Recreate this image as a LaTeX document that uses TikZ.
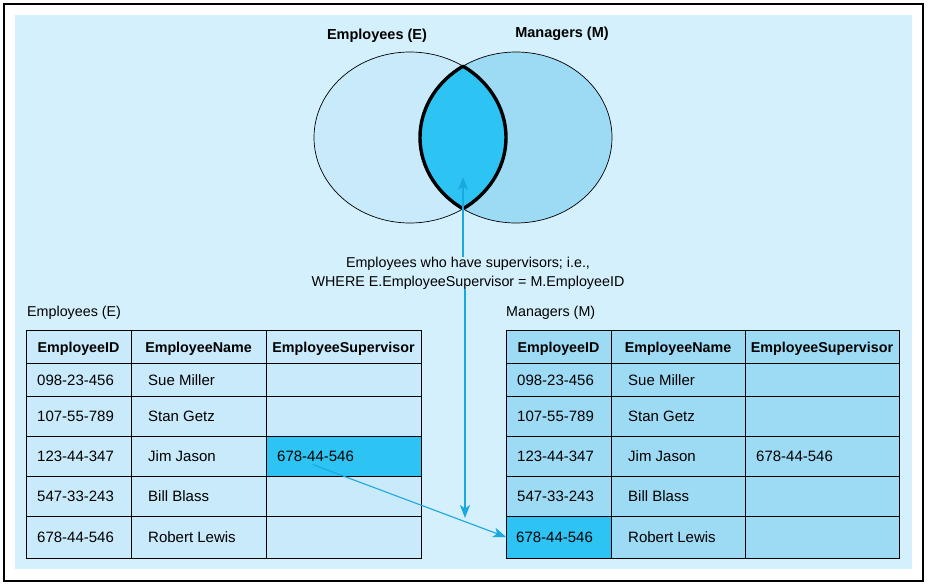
\documentclass[tikz,border=0pt]{standalone}
\usepackage{fontspec}
\setmainfont{Liberation Sans}
\usetikzlibrary{arrows.meta}
\definecolor{bgblue}{HTML}{D4F0FC}
\definecolor{tblE}{HTML}{C8EAFB}
\definecolor{tblM}{HTML}{9DDBF5}
\definecolor{hl}{HTML}{2DC4F3}
\definecolor{arrblue}{HTML}{1BA7E0}
\begin{document}
\begin{tikzpicture}[x=1pt,y=-1pt,
  cell/.style={draw, line width=0.9pt, inner sep=0pt, outer sep=0pt, anchor=north west},
  txt/.style={inner sep=0pt, font=\fontsize{14.3}{19}\selectfont},
  hdr/.style={inner sep=0pt, font=\fontsize{14.3}{17}\selectfont\bfseries},
  body/.style={txt, anchor=west},
  cellt/.style={inner sep=0pt, anchor=west, font=\fontsize{15}{18}\selectfont},
  arr/.style={draw=arrblue, line width=1.1pt, -{Stealth[length=13pt, width=10pt, inset=3.5pt]}},
  venn/.style={draw=black, line width=0.7pt}]
\useasboundingbox (0,0) rectangle (929,586);
\draw[line width=1.3pt] (4,4) rectangle (923,581);
\fill[bgblue] (15,15) rectangle (912,569);
% Venn diagram
\fill[tblE] (410,137.5) ellipse [x radius=96, y radius=85.5];
\fill[tblM] (516,137.5) ellipse [x radius=96, y radius=85.5];
\draw[venn] (410,137.5) ellipse [x radius=96, y radius=85.5];
\draw[venn] (516,137.5) ellipse [x radius=96, y radius=85.5];
\filldraw[fill=hl, draw=black, line width=3.4pt, line join=round]
  (463,66.2) arc[start angle=-56.5, end angle=56.5, x radius=96, y radius=85.5]
  arc[start angle=123.5, end angle=236.5, x radius=96, y radius=85.5] -- cycle;
\node[hdr, font=\fontsize{14.5}{17}\selectfont\bfseries] (vE) at (377,36) {Employees (E)};
\node[hdr, font=\fontsize{14.5}{17}\selectfont\bfseries] (vM) at (562,34) {Managers (M)};
% caption
\node[txt, align=center] (cap) at (468,273) {Employees who have supervisors; i.e.,\\WHERE E.EmployeeSupervisor = M.EmployeeID};
% table titles
\node[body] (tE) at (27,313) {Employees (E)};
\node[body] (tM) at (506,313) {Managers (M)};
% tables
\foreach \t/\x/\f/\wa/\wb/\wc in {L/26/tblE/105/135/155, R/506/tblM/105/134/154} {
  \foreach \r/\y/\h in {0/330/33, 1/363/33, 2/396/40, 3/436/40, 4/476/40, 5/516/42} {
    \node[cell, fill=\f, minimum width=\wa, minimum height=\h] (\t\r1) at (\x,\y) {};
    \node[cell, fill=\f, minimum width=\wb, minimum height=\h] (\t\r2) at (\t\r1.north east) {};
    \node[cell, fill=\f, minimum width=\wc, minimum height=\h] (\t\r3) at (\t\r2.north east) {};
  }
  \node[hdr] at ([yshift=-2pt]\t01) {EmployeeID};
  \node[hdr] at ([yshift=-2pt]\t02) {EmployeeName};
  \node[hdr] at ([yshift=-2pt]\t03) {EmployeeSupervisor};
  \node[cellt] at ([xshift=11pt, yshift=-1pt]\t11.west) {098-23-456};
  \node[cellt] at ([xshift=11pt]\t21.west) {107-55-789};
  \node[cellt] at ([xshift=11pt]\t31.west) {123-44-347};
  \node[cellt] at ([xshift=11pt]\t41.west) {547-33-243};
  \node[cellt] at ([xshift=17pt, yshift=-1pt]\t12.west) {Sue Miller};
  \node[cellt] at ([xshift=17pt]\t22.west) {Stan Getz};
  \node[cellt] at ([xshift=17pt]\t32.west) {Jim Jason};
  \node[cellt] at ([xshift=17pt]\t42.west) {Bill Blass};
  \node[cellt] at ([xshift=17pt]\t52.west) {Robert Lewis};
}
\draw[fill=hl, line width=0.9pt] (L33.north west) rectangle (L33.south east);
\draw[fill=hl, line width=0.9pt] (R51.north west) rectangle (R51.south east);
\node[cellt] (L51t) at ([xshift=11pt]L51.west) {678-44-546};
\node[cellt] (R51t) at ([xshift=10pt]R51.west) {678-44-546};
\node[cellt] (supv) at ([xshift=11pt]L33.west) {678-44-546};
\node[cellt] (R33t) at ([xshift=11pt]R33.west) {678-44-546};
% arrows
\coordinate (lensin) at (463,177);
\coordinate (downtip) at (465,518);
\draw[arr] (cap.north -| lensin) -- (lensin);
\draw[arr] (cap.south -| downtip) -- (downtip);
\draw[arr] ([xshift=-3pt, yshift=-3pt]supv.south) -- (R51.west);
\end{tikzpicture}
\end{document}
